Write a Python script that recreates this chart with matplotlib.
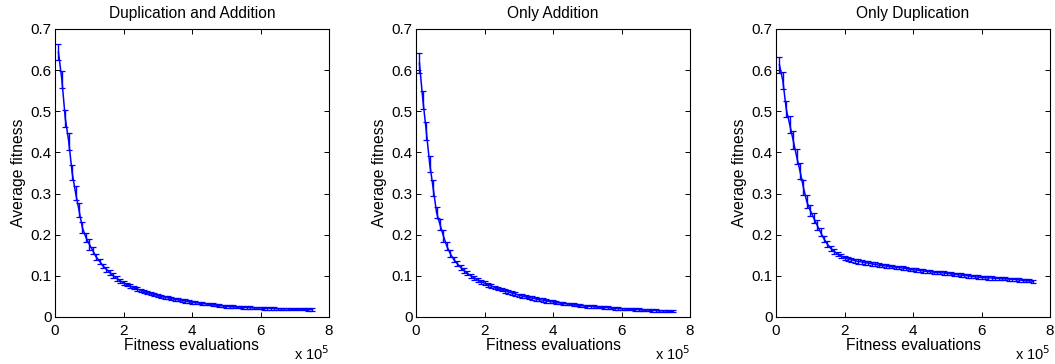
import numpy as np
import matplotlib
matplotlib.use("Agg")
import matplotlib.pyplot as plt

plt.rcParams['font.family'] = ['Liberation Sans', 'DejaVu Sans']

titles = ["Duplication and Addition", "Only Addition", "Only Duplication"]
evals = np.arange(1, 76) * 1e4

dup_add_mean = [0.644, 0.577, 0.483, 0.427, 0.351, 0.302, 0.260, 0.217, 0.194, 0.177,
                0.162, 0.146, 0.136, 0.124, 0.116, 0.108, 0.100, 0.094, 0.088, 0.083,
                0.079, 0.075, 0.071, 0.068, 0.065, 0.062, 0.059, 0.057, 0.055, 0.052,
                0.050, 0.048, 0.047, 0.045, 0.043, 0.042, 0.040, 0.039, 0.037, 0.036,
                0.035, 0.034, 0.033, 0.032, 0.031, 0.030, 0.029, 0.028, 0.027, 0.026,
                0.025, 0.025, 0.024, 0.024, 0.023, 0.023, 0.023, 0.022, 0.022, 0.022,
                0.021, 0.021, 0.021, 0.021, 0.020, 0.020, 0.020, 0.020, 0.019, 0.019,
                0.019, 0.019, 0.019, 0.018, 0.018]
dup_add_err = [0.019, 0.021, 0.021, 0.021, 0.019, 0.017, 0.016, 0.014, 0.011, 0.013,
               0.008, 0.008, 0.006, 0.006, 0.006, 0.006, 0.006, 0.006, 0.005, 0.005,
               0.004, 0.004, 0.004, 0.004, 0.004, 0.004, 0.004, 0.004, 0.004, 0.004,
               0.004, 0.004, 0.004, 0.004, 0.004, 0.004, 0.004, 0.004, 0.004, 0.004,
               0.003, 0.003, 0.003, 0.003, 0.003, 0.003, 0.003, 0.003, 0.003, 0.003,
               0.003, 0.003, 0.003, 0.003, 0.003, 0.003, 0.003, 0.003, 0.003, 0.003,
               0.003, 0.003, 0.003, 0.003, 0.003, 0.003, 0.003, 0.003, 0.003, 0.003,
               0.003, 0.003, 0.003, 0.003, 0.003]

add_mean = [0.617, 0.528, 0.452, 0.372, 0.314, 0.254, 0.225, 0.197, 0.172, 0.154,
            0.140, 0.130, 0.121, 0.113, 0.106, 0.100, 0.095, 0.090, 0.086, 0.082,
            0.078, 0.075, 0.072, 0.069, 0.066, 0.063, 0.061, 0.058, 0.056, 0.053,
            0.051, 0.049, 0.047, 0.046, 0.044, 0.042, 0.041, 0.039, 0.038, 0.037,
            0.035, 0.034, 0.033, 0.032, 0.031, 0.030, 0.029, 0.028, 0.027, 0.026,
            0.026, 0.025, 0.024, 0.024, 0.023, 0.023, 0.022, 0.021, 0.021, 0.020,
            0.020, 0.019, 0.019, 0.018, 0.018, 0.017, 0.017, 0.017, 0.016, 0.016,
            0.015, 0.015, 0.015, 0.014, 0.014]
add_err = [0.024, 0.022, 0.022, 0.020, 0.019, 0.014, 0.014, 0.014, 0.010, 0.008,
           0.007, 0.007, 0.006, 0.005, 0.005, 0.005, 0.005, 0.005, 0.005, 0.005,
           0.004, 0.004, 0.004, 0.004, 0.004, 0.004, 0.004, 0.004, 0.004, 0.004,
           0.004, 0.004, 0.004, 0.004, 0.004, 0.004, 0.004, 0.004, 0.004, 0.004,
           0.003, 0.003, 0.003, 0.003, 0.003, 0.003, 0.003, 0.003, 0.003, 0.003,
           0.003, 0.003, 0.003, 0.003, 0.003, 0.003, 0.003, 0.003, 0.003, 0.003,
           0.003, 0.003, 0.003, 0.003, 0.003, 0.003, 0.003, 0.003, 0.003, 0.003,
           0.003, 0.003, 0.003, 0.003, 0.003]

dup_mean = [0.613, 0.574, 0.505, 0.468, 0.430, 0.391, 0.355, 0.315, 0.280, 0.259,
            0.241, 0.223, 0.206, 0.190, 0.177, 0.167, 0.159, 0.153, 0.148, 0.144,
            0.141, 0.139, 0.137, 0.135, 0.134, 0.132, 0.131, 0.129, 0.128, 0.126,
            0.125, 0.124, 0.123, 0.122, 0.121, 0.120, 0.119, 0.118, 0.116, 0.115,
            0.114, 0.113, 0.112, 0.111, 0.110, 0.109, 0.108, 0.108, 0.107, 0.106,
            0.105, 0.104, 0.103, 0.102, 0.101, 0.100, 0.099, 0.098, 0.097, 0.096,
            0.096, 0.095, 0.095, 0.094, 0.094, 0.093, 0.093, 0.092, 0.092, 0.091,
            0.090, 0.089, 0.088, 0.088, 0.087]
dup_err = [0.019, 0.021, 0.019, 0.020, 0.021, 0.018, 0.020, 0.019, 0.016, 0.014,
           0.012, 0.012, 0.010, 0.008, 0.007, 0.006, 0.006, 0.005, 0.005, 0.005,
           0.005, 0.005, 0.005, 0.005, 0.005, 0.005, 0.005, 0.005, 0.005, 0.005,
           0.004, 0.004, 0.004, 0.004, 0.004, 0.004, 0.004, 0.004, 0.004, 0.004,
           0.004, 0.004, 0.004, 0.004, 0.004, 0.004, 0.004, 0.004, 0.004, 0.004,
           0.004, 0.004, 0.004, 0.004, 0.004, 0.004, 0.004, 0.004, 0.004, 0.004,
           0.004, 0.004, 0.004, 0.004, 0.004, 0.004, 0.004, 0.004, 0.004, 0.004,
           0.004, 0.004, 0.004, 0.004, 0.004]

means = [dup_add_mean, add_mean, dup_mean]
errs = [dup_add_err, add_err, dup_err]

W, H = 1055, 364
fig = plt.figure(figsize=(W / 100, H / 100), dpi=100)
lefts = [55, 416, 776]
for i in range(3):
    ax = fig.add_axes([lefts[i] / W, 1 - 317 / H, 274 / W, 288 / H])
    ax.errorbar(evals / 1e5, means[i], yerr=errs[i], color='#0000ff', lw=1.1,
                elinewidth=1.0, capsize=2.4, capthick=0.9)
    ax.set_xlim(0, 8)
    ax.set_ylim(0, 0.7)
    ax.set_xticks([0, 2, 4, 6, 8])
    ax.set_yticks(np.arange(0, 0.71, 0.1))
    ax.set_yticklabels(['0', '0.1', '0.2', '0.3', '0.4', '0.5', '0.6', '0.7'])
    ax.tick_params(direction='in', top=True, right=True, labelsize=11,
                   length=3.5, width=0.7)
    ax.tick_params(axis='x', pad=5)
    ax.tick_params(axis='y', pad=2.5)
    for s in ax.spines.values():
        s.set_linewidth(0.8)
    ax.set_title(titles[i], fontsize=11.2, pad=8)
    ax.set_xlabel("Fitness evaluations", fontsize=11.3, labelpad=0)
    ax.set_ylabel("Average fitness", fontsize=11.3, labelpad=3)
    ax.text(1.0, -0.149, r"x 10$^5$", transform=ax.transAxes, ha='right',
            va='baseline', fontsize=10.5)

fig.savefig("out.png", dpi=100)
